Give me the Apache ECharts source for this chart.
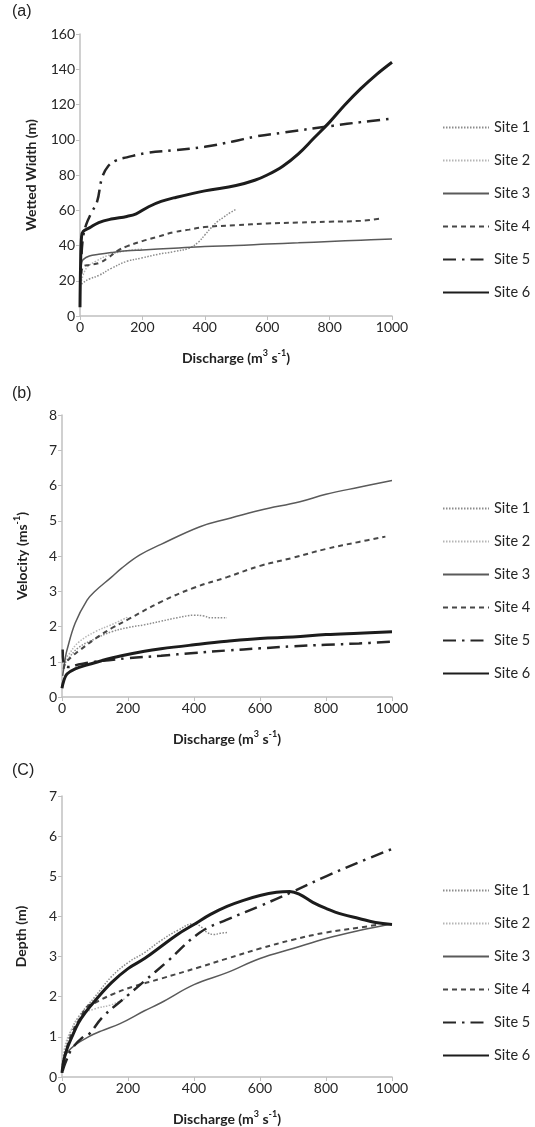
<!DOCTYPE html>
<html>
<head>
<meta charset="utf-8">
<script src="https://cdn.jsdelivr.net/npm/echarts@6/dist/echarts.min.js"></script>
<style>
html,body{margin:0;padding:0;background:#fff;}
#c{width:535px;height:1127px;}
</style>
</head>
<body>
<div id="c"></div>
<script>
// ---- Data: [discharge, value] pairs ----
const siteNames = ['Site 1','Site 2','Site 3','Site 4','Site 5','Site 6'];
const panelLabels = ['(a)','(b)','(C)'];
const xTicks = [0,200,400,600,800,1000];

// (a) Wetted width (m)
const widthSite1 = [[5,18],[10,19],[30,21],[60,23],[100,27],[150,31],[200,33],[250,35],[300,36.5],[350,38.5],[380,42],[400,46],[420,50],[440,53.5],[460,56],[480,58.5],[500,60.5]];
const widthSite2 = [[5,20],[20,27],[50,31],[100,35],[150,37],[200,38]];
const widthSite3 = [[2,25],[5,30],[10,32],[30,34],[60,35],[100,36],[150,37],[200,37.5],[300,38.5],[400,39.5],[500,40],[600,40.8],[700,41.5],[800,42.3],[900,43],[1000,43.7]];
const widthSite4 = [[5,24],[10,28],[30,29],[60,30],[90,33],[120,37],[150,39.5],[200,42.5],[250,45],[300,47.5],[350,49],[400,50.5],[500,51.5],[600,52.5],[700,53],[800,53.5],[900,54],[970,55.5]];
const widthSite5 = [[5,35],[10,45],[20,52],[35,58],[55,65],[70,78],[90,85],[118,88.5],[150,90],[214,92.5],[300,94],[400,96],[490,99],[567,102],[650,104],[812,108],[900,110],[1000,112]];
const widthSite6 = [[0,5],[2,30],[5,45],[10,48],[30,50],[60,53],[100,55],[150,56.5],[180,58],[220,62],[260,65],[300,67],[400,71],[500,74],[560,77],[600,80],[650,85],[700,92],[750,101],[800,110],[850,120],[900,129],[950,137],[1000,144]];

// (b) Velocity (m s-1)
const velSite1 = [[5,0.9],[20,1.1],[50,1.4],[100,1.65],[150,1.85],[200,1.97],[250,2.05],[300,2.15],[350,2.25],[400,2.32],[430,2.3],[450,2.25],[500,2.25]];
const velSite2 = [[5,1.0],[20,1.2],[50,1.55],[100,1.85],[150,2.05],[200,2.27]];
const velSite3 = [[2,0.6],[10,1.1],[15,1.33],[40,2.1],[76,2.75],[100,3.0],[150,3.4],[180,3.65],[236,4.03],[300,4.33],[418,4.83],[500,5.05],[600,5.3],[721,5.54],[800,5.75],[900,5.95],[1000,6.14]];
const velSite4 = [[5,0.8],[10,0.95],[30,1.15],[50,1.3],[100,1.65],[150,1.95],[200,2.2],[300,2.7],[400,3.1],[500,3.4],[600,3.72],[700,3.95],[800,4.2],[900,4.4],[980,4.55]];
const velSite5 = [[2,1.35],[5,0.95],[20,0.85],[50,0.92],[100,1.0],[200,1.1],[300,1.17],[400,1.25],[500,1.32],[600,1.38],[700,1.44],[800,1.48],[900,1.52],[1000,1.57]];
const velSite6 = [[0,0.25],[5,0.45],[15,0.65],[40,0.8],[80,0.92],[120,1.03],[180,1.17],[250,1.3],[300,1.37],[400,1.48],[500,1.58],[600,1.66],[700,1.7],[800,1.77],[900,1.81],[1000,1.85]];

// (C) Depth (m)
const depthSite1 = [[2,0.3],[10,0.7],[30,1.2],[50,1.5],[100,2.0],[150,2.5],[200,2.85],[250,3.1],[300,3.4],[350,3.65],[400,3.82],[420,3.75],[440,3.6],[460,3.55],[480,3.58],[500,3.6]];
const depthSite2 = [[2,0.3],[10,0.8],[30,1.2],[60,1.55],[100,1.7],[150,1.8],[190,1.95]];
const depthSite3 = [[0,0.1],[5,0.4],[15,0.6],[40,0.8],[80,1.0],[120,1.15],[176,1.33],[250,1.65],[300,1.85],[400,2.3],[500,2.6],[600,2.95],[700,3.2],[800,3.45],[900,3.65],[1000,3.82]];
const depthSite4 = [[2,0.3],[10,0.6],[30,1.1],[50,1.4],[76,1.75],[100,1.85],[150,2.05],[215,2.25],[300,2.45],[418,2.74],[500,2.95],[600,3.2],[700,3.42],[800,3.6],[900,3.72],[960,3.8]];
const depthSite5 = [[2,0.15],[10,0.35],[30,0.7],[64,1.0],[80,1.05],[124,1.5],[200,2.04],[250,2.39],[318,2.87],[418,3.6],[500,3.92],[600,4.26],[700,4.62],[800,5.0],[900,5.35],[1000,5.68]];
const depthSite6 = [[0,0.1],[5,0.4],[15,0.7],[30,1.0],[50,1.35],[70,1.6],[100,1.9],[150,2.35],[200,2.7],[250,2.95],[300,3.25],[350,3.55],[400,3.8],[450,4.05],[500,4.25],[550,4.4],[600,4.52],[650,4.6],[690,4.62],[720,4.55],[760,4.35],[800,4.2],[850,4.05],[900,3.95],[950,3.85],[1000,3.8]];

const panelData = [
  [widthSite1,widthSite2,widthSite3,widthSite4,widthSite5,widthSite6],
  [velSite1,velSite2,velSite3,velSite4,velSite5,velSite6],
  [depthSite1,depthSite2,depthSite3,depthSite4,depthSite5,depthSite6]
];

// ---- Styles ----
const FONT = 'Lato, "Open Sans", sans-serif';
const lineStyles = [
  {color:'#8c8c8c', width:1.5, type:[1.5,1.5]},
  {color:'#b5b5b5', width:1.5, type:[1.5,1.5]},
  {color:'#5a5a5a', width:1.5, type:'solid'},
  {color:'#474747', width:2, type:[5,4]},
  {color:'#262626', width:2.5, type:[13,6,2.5,6]},
  {color:'#1c1c1c', width:3, type:'solid'}
];

const panels = [
  {top:34, height:282, left:80, ymax:160, yint:20, yname:'{n|Wetted Width (m)}', ygap:40, legendTop:115, labelTop:4},
  {top:415, height:282, left:62, ymax:8, yint:1, yname:'{n|Velocity (ms}{sup|-1}{n|)}', ygap:31, legendTop:496, labelTop:386},
  {top:796, height:283, left:62, ymax:7, yint:1, yname:'{n|Depth (m)}', ygap:32, legendTop:878, labelTop:763}
];

const richSup = {
  sup:{fontSize:9, fontWeight:'bold', verticalAlign:'top', lineHeight:18, color:'#222', fontFamily:FONT},
  n:{fontSize:14, fontWeight:'bold', lineHeight:18, color:'#222', fontFamily:FONT}
};

const grids=[], xAxes=[], yAxes=[], series=[], legends=[], graphics=[];
panels.forEach((p,i)=>{
  grids.push({left:p.left, width:392-p.left, top:p.top, height:p.height});
  xAxes.push({
    type:'value', gridIndex:i, min:0, max:1000, interval:200,
    axisLine:{show:true, lineStyle:{color:'#c0c0c0', width:1.5}},
    axisTick:{show:true, length:4, lineStyle:{color:'#c0c0c0'}},
    splitLine:{show:false},
    axisLabel:{color:'#262626', fontSize:14, fontFamily:FONT, margin:4, formatter:v=>String(v)},
    name:'{n|Discharge (m}{sup|3}{n| s}{sup|-1}{n|)}',
    nameLocation:'middle', nameGap:33,
    nameTextStyle:{rich:richSup}
  });
  yAxes.push({
    type:'value', gridIndex:i, min:0, max:p.ymax, interval:p.yint,
    axisLine:{show:true, lineStyle:{color:'#c0c0c0', width:1.5}},
    axisTick:{show:true, length:4, lineStyle:{color:'#c0c0c0'}},
    splitLine:{show:false},
    axisLabel:{color:'#262626', fontSize:14, fontFamily:FONT, margin:5, formatter:v=>String(v)},
    name: p.yname,
    nameLocation:'middle', nameGap:p.ygap, nameRotate:90,
    nameTextStyle:{rich:richSup}
  });
  panelData[i].forEach((d,k)=>{
    series.push({
      type:'line', name:siteNames[k], xAxisIndex:i, yAxisIndex:i,
      data:d, symbol:'none', smooth:0.4,
      lineStyle:lineStyles[k], itemStyle:{color:lineStyles[k].color},
      z: k
    });
  });
  legends.push({
    orient:'vertical', left:437, top:p.legendTop,
    itemWidth:46, itemHeight:14, itemGap:18,
    data:siteNames,
    itemStyle:{opacity:0},
    textStyle:{color:'#262626', fontSize:14.5, fontFamily:FONT},
    selectedMode:false
  });
  graphics.push({type:'text', left:12, top:p.labelTop, style:{text:panelLabels[i], font:'16px "Liberation Sans", Arial, sans-serif', fill:'#222'}});
});

const chart = echarts.init(document.getElementById('c'), null, {renderer:'canvas'});
chart.setOption({
  animation:false,
  backgroundColor:'#fff',
  grid:grids, xAxis:xAxes, yAxis:yAxes, series:series, legend:legends, graphic:graphics
});
</script>
</body>
</html>
